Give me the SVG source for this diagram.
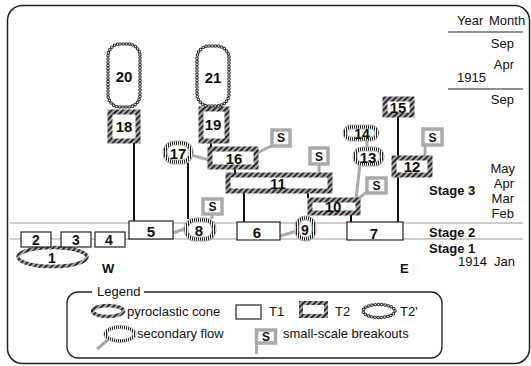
<svg xmlns="http://www.w3.org/2000/svg" width="531" height="366" viewBox="0 0 531 366">
<style>
text{font-family:"Liberation Sans",Arial,sans-serif;fill:#111}
.n{font-size:15px;font-weight:bold;text-anchor:middle}
.ns{font-size:14px;font-weight:bold;text-anchor:middle}
.t{font-size:13px}
.st{font-size:13px;font-weight:bold}
.s{font-size:12px;font-weight:bold;text-anchor:middle}
.t1{fill:#fff;stroke:#222;stroke-width:1.2}
.t2{fill:#fff;stroke:url(#hatch);stroke-width:5}
.sf{fill:#fff;stroke:#aaa;stroke-width:5}
.sfi{fill:none;stroke:url(#vh);stroke-width:3}
.wv{fill:#fff;stroke:#333;stroke-width:3.6;stroke-dasharray:0 3.2;stroke-linecap:round}
.wvi{fill:none;stroke:#fff;stroke-width:1.5;stroke-dasharray:0 3.2;stroke-linecap:round}
.sb{fill:#fff;stroke:#aaa;stroke-width:3.5}
.g{stroke:#aaa;stroke-width:3;fill:none}
.b{stroke:#111;stroke-width:2;fill:none}
.gl{stroke:#999;stroke-width:1.2}
.kl{stroke:#222;stroke-width:1.2}
</style>
<defs>
<pattern id="hatch" width="4" height="4" patternUnits="userSpaceOnUse" patternTransform="rotate(45)">
<rect width="4" height="4" fill="#a8a8a8"/><rect width="1.6" height="4" fill="#111"/>
</pattern>
<pattern id="vh" width="2" height="2" patternUnits="userSpaceOnUse">
<rect width="2" height="2" fill="#fff"/><rect width="1" height="2" fill="#222"/>
</pattern>
</defs>
<rect x="7.5" y="5.5" width="522" height="358" rx="15" fill="#fff" stroke="#222" stroke-width="1.5"/>
<line class="gl" x1="10" y1="223" x2="523" y2="223"/>
<line class="gl" x1="10" y1="239" x2="523" y2="239"/>
<g id="timescale">
<text class="t" x="457" y="25">Year</text>
<text class="t" x="489" y="25">Month</text>
<line class="kl" x1="448" y1="32" x2="523" y2="32"/>
<text class="t" x="514" y="48" text-anchor="end">Sep</text>
<text class="t" x="514" y="69" text-anchor="end">Apr</text>
<text class="t" x="457" y="82">1915</text>
<line class="kl" x1="448" y1="89" x2="523" y2="89"/>
<text class="t" x="514" y="104" text-anchor="end">Sep</text>
<text class="t" x="515" y="173" text-anchor="end">May</text>
<text class="t" x="514" y="188" text-anchor="end">Apr</text>
<text class="t" x="514" y="203" text-anchor="end">Mar</text>
<text class="t" x="514" y="218" text-anchor="end">Feb</text>
<text class="st" x="429" y="195">Stage 3</text>
<text class="st" x="429" y="237">Stage 2</text>
<text class="st" x="429" y="253">Stage 1</text>
<text class="t" x="458" y="266">1914</text>
<text class="t" x="494" y="266">Jan</text>
<text class="st" x="400" y="273" font-size="14">E</text>
<text class="st" x="102" y="273" font-size="14">W</text>
</g>
<g id="connectors">
<line class="b" x1="134" y1="143" x2="134" y2="221"/>
<line class="b" x1="188" y1="163" x2="188" y2="219"/>
<line class="b" x1="211" y1="143" x2="211" y2="147"/>
<line class="b" x1="235" y1="169" x2="235" y2="173"/>
<line class="b" x1="244" y1="193" x2="244" y2="222"/>
<line class="b" x1="308" y1="193" x2="308" y2="198"/>
<line class="b" x1="351" y1="214" x2="351" y2="222"/>
<line class="b" x1="398" y1="117" x2="398" y2="222"/>
<line class="g" x1="173" y1="233" x2="187" y2="228"/>
<line class="g" x1="280" y1="236" x2="297" y2="231"/>
<line class="g" x1="191" y1="155" x2="209" y2="160"/>
<line class="g" x1="360" y1="164" x2="356" y2="199"/>
<line class="g" x1="367" y1="139" x2="367" y2="149"/>
<line class="g" x1="212" y1="213" x2="212" y2="219"/>
<line class="g" x1="273" y1="145" x2="257" y2="153"/>
<line class="g" x1="319" y1="163" x2="319" y2="173"/>
<line class="g" x1="368" y1="191" x2="358" y2="199"/>
<line class="g" x1="425" y1="144" x2="425" y2="156"/>
</g>
<g id="n1"><ellipse cx="52.5" cy="257" rx="34.5" ry="9.5" fill="#fff" stroke="url(#hatch)" stroke-width="3.5"/><text class="ns" x="52" y="263">1</text></g>
<g id="n2"><rect class="t1" x="21" y="232" width="30" height="15"/><text class="ns" x="36" y="245">2</text></g>
<g id="n3"><rect class="t1" x="61" y="232" width="30" height="15"/><text class="ns" x="76" y="245">3</text></g>
<g id="n4"><rect class="t1" x="95" y="232" width="30" height="15"/><text class="ns" x="109" y="245">4</text></g>
<g id="n5"><rect class="t1" x="129" y="221" width="44" height="18"/><text class="n" x="151" y="237">5</text></g>
<g id="n6"><rect class="t1" x="237" y="222" width="43" height="18"/><text class="n" x="257" y="238">6</text></g>
<g id="n7"><rect class="t1" x="347" y="222" width="56" height="18"/><text class="n" x="374" y="239">7</text></g>
<g id="n8"><rect class="sf" x="186" y="220" width="28" height="19" rx="9"/><rect class="sfi" x="186" y="220" width="28" height="19" rx="9"/><text class="n" x="199" y="236">8</text></g>
<g id="n9"><rect class="sf" x="297" y="218" width="17" height="21" rx="8"/><rect class="sfi" x="297" y="218" width="17" height="21" rx="8"/><text class="ns" x="305" y="235">9</text></g>
<g id="n10"><rect class="t2" x="310" y="200" width="48" height="13"/><text class="n" x="333" y="212">10</text></g>
<g id="n11"><rect class="t2" x="228" y="175" width="102" height="16"/><text class="n" x="278" y="189">11</text></g>
<g id="n12"><rect class="t2" x="394" y="158" width="36" height="17"/><text class="n" x="412" y="172">12</text></g>
<g id="n13"><rect class="sf" x="355" y="149" width="27" height="15" rx="7"/><rect class="sfi" x="355" y="149" width="27" height="15" rx="7"/><text class="n" x="368" y="163">13</text></g>
<g id="n14"><rect class="sf" x="345" y="127" width="32" height="12" rx="6"/><rect class="sfi" x="345" y="127" width="32" height="12" rx="6"/><text class="ns" x="362" y="139">14</text></g>
<g id="n15"><rect class="t2" x="385" y="99" width="27" height="16"/><text class="n" x="398" y="113">15</text></g>
<g id="n16"><rect class="t2" x="210" y="149" width="46" height="18"/><text class="n" x="234" y="164">16</text></g>
<g id="n17"><rect class="sf" x="165" y="143" width="26" height="19" rx="9"/><rect class="sfi" x="165" y="143" width="26" height="19" rx="9"/><text class="n" x="178" y="159">17</text></g>
<g id="n18"><rect class="t2" x="110" y="112" width="28" height="29"/><text class="n" x="124" y="132">18</text></g>
<g id="n19"><rect class="t2" x="201" y="109" width="26" height="32"/><text class="n" x="213" y="130">19</text></g>
<g id="n20"><rect class="wv" x="108" y="44" width="32" height="63" rx="12"/><rect class="wvi" x="108" y="44" width="32" height="63" rx="12"/><text class="n" x="124" y="82">20</text></g>
<g id="n21"><rect class="wv" x="197" y="46" width="32" height="60" rx="12"/><rect class="wvi" x="197" y="46" width="32" height="60" rx="12"/><text class="n" x="213" y="83">21</text></g>
<g id="s8"><rect class="sb" x="203" y="199" width="19" height="15"/><text class="s" x="212.5" y="211">S</text></g>
<g id="s16"><rect class="sb" x="272" y="130" width="18" height="16"/><text class="s" x="281" y="142">S</text></g>
<g id="s11"><rect class="sb" x="310" y="148" width="18" height="16"/><text class="s" x="319" y="160.5">S</text></g>
<g id="s10"><rect class="sb" x="367" y="178" width="19" height="15"/><text class="s" x="376.5" y="190">S</text></g>
<g id="s12"><rect class="sb" x="423" y="129" width="19" height="16"/><text class="s" x="432.5" y="141.5">S</text></g>
<g id="legend">
<rect x="67" y="292" width="375" height="66" rx="11" fill="none" stroke="#222" stroke-width="1.3"/>
<rect x="92" y="285" width="52" height="12" fill="#fff"/>
<text class="t" x="97" y="296">Legend</text>
<ellipse cx="108" cy="311" rx="15.5" ry="5.5" fill="#fff" stroke="url(#hatch)" stroke-width="3.5"/>
<text class="t" x="127" y="316">pyroclastic cone</text>
<rect class="t1" x="236" y="305" width="25" height="14"/>
<text class="t" x="269" y="316">T1</text>
<rect x="301" y="303" width="25" height="13" fill="#fff" stroke="url(#hatch)" stroke-width="4"/>
<text class="t" x="335" y="316">T2</text>
<ellipse class="wv" cx="379" cy="311" rx="16" ry="6.5"/>
<ellipse class="wvi" cx="379" cy="311" rx="16" ry="6.5"/>
<text class="t" x="400" y="316">T2'</text>
<line class="g" x1="97" y1="349" x2="109" y2="339"/>
<ellipse cx="120" cy="334" rx="14.5" ry="7" fill="#fff" stroke="#aaa" stroke-width="4"/>
<ellipse cx="120" cy="334" rx="14.5" ry="7" fill="none" stroke="url(#vh)" stroke-width="2.5"/>
<text class="t" x="137" y="338">secondary flow</text>
<line class="g" x1="256.5" y1="329" x2="256.5" y2="354"/>
<rect class="sb" x="256.5" y="330" width="19" height="13"/>
<text class="s" x="266" y="341" font-size="11">S</text>
<text class="t" x="283" y="338">small-scale breakouts</text>
</g>
</svg>
